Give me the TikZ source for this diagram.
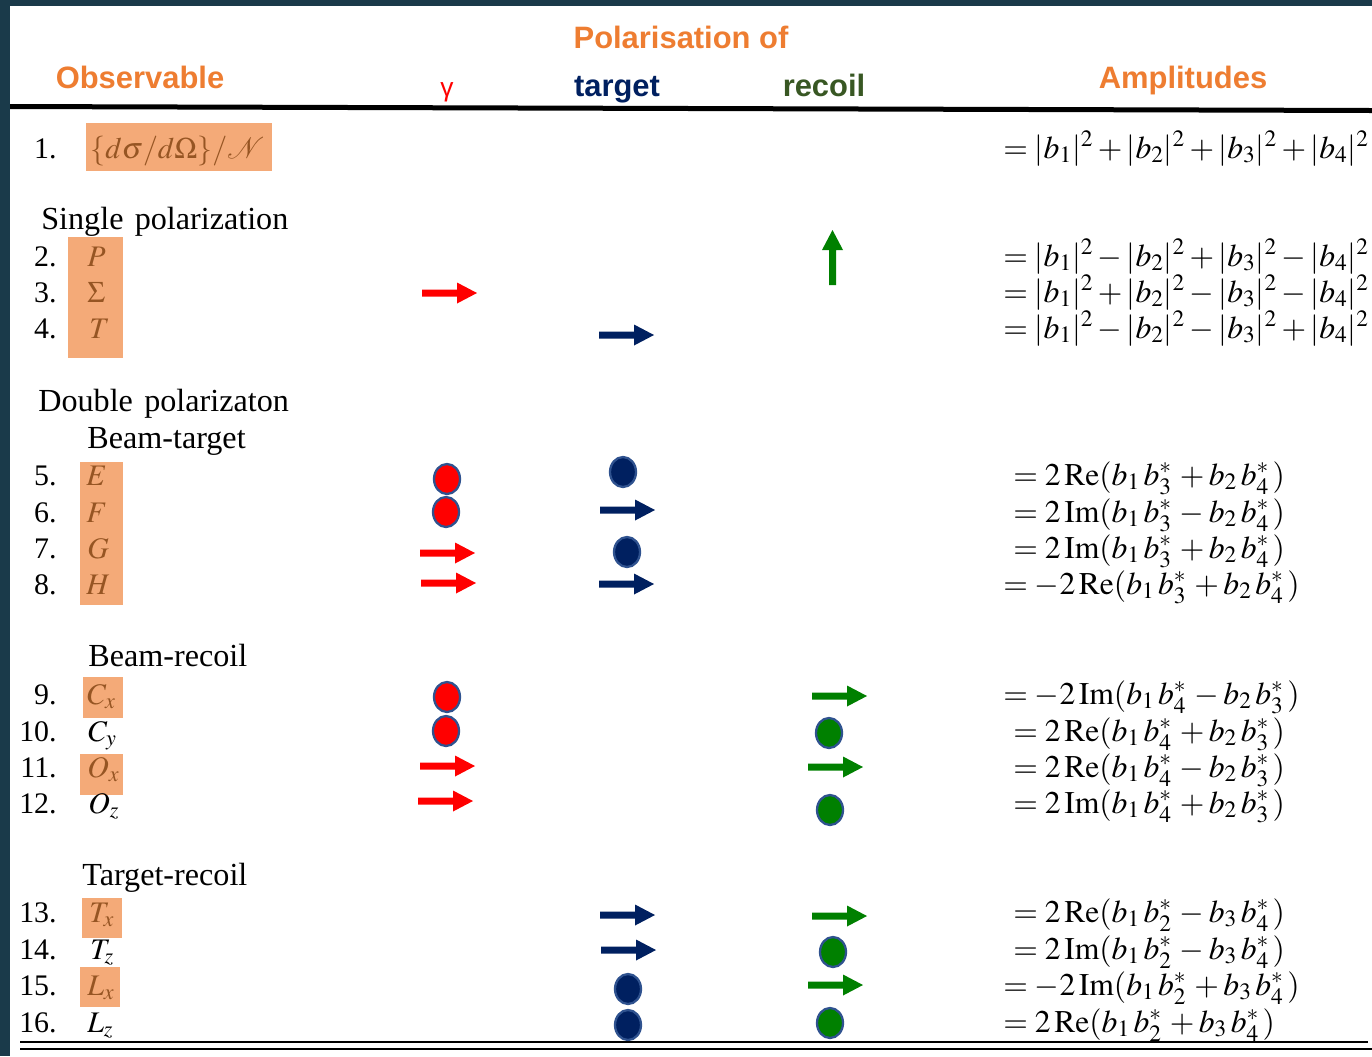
\documentclass[tikz,border=0pt]{standalone}
\usepackage{mathptmx}
\usepackage[no-math]{fontspec}
\setmainfont{Liberation Serif}
\newfontfamily\hdfont{Liberation Sans}
\usetikzlibrary{shapes.geometric}

\definecolor{frame}{RGB}{26,58,74}
\definecolor{hdorange}{RGB}{238,125,49}
\definecolor{tgtnavy}{RGB}{0,32,96}
\definecolor{rcgreen}{RGB}{56,87,35}
\definecolor{boxfill}{RGB}{244,170,120}
\definecolor{boxtext}{RGB}{150,85,35}
\definecolor{gamred}{RGB}{255,0,0}
\definecolor{recgreen}{RGB}{0,128,0}
\definecolor{dotedge}{RGB}{47,82,143}

\newcommand{\rowfont}{\fontsize{17}{20}\selectfont}
\newcommand{\ampfont}{\fontsize{18}{20}\selectfont}
\newcommand{\secfont}{\fontsize{18.3}{20}\selectfont}
\newcommand{\hdsize}{\hdfont\bfseries\fontsize{17.6}{19}\selectfont}

% block arrows: colour, left x, centre y  /  colour, centre x, bottom y
\newcommand{\polright}[3]{\fill[#1] (#2,#3) ++(0,-3.5) -- ++(35,0) -- ++(0,-7) -- ++(20,10.5) -- ++(-20,10.5) -- ++(0,-7) -- ++(-35,0) -- cycle;}
\newcommand{\polup}[3]{\fill[#1] (#2,#3) ++(-3.5,0) -- ++(0,-35) -- ++(-7,0) -- ++(10.5,-20) -- ++(10.5,20) -- ++(-7,0) -- ++(0,35) -- cycle;}

\tikzset{
  numlab/.style={anchor=base east, inner sep=0pt, font=\rowfont},
  obslab/.style={anchor=base west, inner sep=0pt, font=\rowfont},
  inbox/.style={obslab, text=boxtext},
  amp/.style={anchor=base west, inner sep=0pt, font=\ampfont},
  secthead/.style={anchor=base west, inner sep=0pt, font=\secfont},
  colhead/.style={anchor=base, inner sep=0pt, font=\hdsize},
  poldot/.style={ellipse, draw=dotedge, line width=1.3pt, inner sep=0pt, minimum width=0.52cm, minimum height=0.6cm},
  reddot/.style={poldot, fill=gamred},
  navydot/.style={poldot, fill=tgtnavy},
  greendot/.style={poldot, fill=recgreen}
}

\begin{document}
\begin{tikzpicture}[x=0.02cm,y=-0.02cm]
\useasboundingbox (0,0) rectangle (1372,1056);
\fill[frame] (0,0) rectangle (1372,1056);
\fill[white] (10,6) rectangle (1372,1056);

% column heads
\node[colhead, text=hdorange] (polof) at (681,48) {Polarisation of};
\node[colhead, text=hdorange] (obs) at (140,88) {Observable};
\node[colhead, text=gamred, font=\hdfont\fontsize{15}{16}\selectfont] (gam) at (447,96) {γ};
\node[colhead, text=tgtnavy] (tgt) at (617,96) {target};
\node[colhead, text=rcgreen] (rec) at (824,96) {recoil};
\node[colhead, text=hdorange] (amps) at (1183,88) {Amplitudes};
\fill[black] (10,104) -- (1372,108) -- (1372,113) -- (10,109) -- cycle;

% orange boxes
\fill[boxfill] (86,123) rectangle (272,171);
\fill[boxfill] (68,237) rectangle (123,358);
\fill[boxfill] (80,462) rectangle (123,605);
\fill[boxfill] (83,677) rectangle (123,718);
\fill[boxfill] (80,754) rectangle (123,795);
\fill[boxfill] (82,898) rectangle (122,938);
\fill[boxfill] (80,967) rectangle (120,1007);

% section heads
\node[secthead] (single) at (41,229) {Single\hspace{0.1em} polarization};
\node[secthead] (double) at (38,411) {Double\hspace{0.1em} polarizaton};
\node[secthead] (bt) at (87,448) {Beam-target};
\node[secthead] (br) at (88,666) {Beam-recoil};
\node[secthead] (tr) at (82,885) {Target-recoil};

% row numbers
\node[numlab] (n1) at (57,158) {1.};
\node[numlab] (n2) at (57,266) {2.};
\node[numlab] (n3) at (57,302) {3.};
\node[numlab] (n4) at (57,338) {4.};
\node[numlab] (n5) at (57,485) {5.};
\node[numlab] (n6) at (57,522) {6.};
\node[numlab] (n7) at (57,558) {7.};
\node[numlab] (n8) at (57,594) {8.};
\node[numlab] (n9) at (57,704) {9.};
\node[numlab] (n10) at (57,741) {10.};
\node[numlab] (n11) at (57,777) {11.};
\node[numlab] (n12) at (57,813) {12.};
\node[numlab] (n13) at (57,922) {13.};
\node[numlab] (n14) at (57,959) {14.};
\node[numlab] (n15) at (57,995) {15.};
\node[numlab] (n16) at (57,1032) {16.};

% observables
\node[inbox] (o1) at (90,158) {$\{d\sigma/d\Omega\}/\mathcal{N}$};
\node[inbox] (o2) at (87,266) {$P$};
\node[inbox] (o3) at (87,302) {$\Sigma$};
\node[inbox] (o4) at (89,338) {$T$};
\node[inbox] (o5) at (86,485) {$E$};
\node[inbox] (o6) at (86,522) {$F$};
\node[inbox] (o7) at (87,558) {$G$};
\node[inbox] (o8) at (86,594) {$H$};
\node[inbox] (o9) at (87,704) {$C_x$};
\node[obslab] (o10) at (88,741) {$C_y$};
\node[inbox] (o11) at (87,777) {$O_x$};
\node[obslab] (o12) at (88,813) {$O_z$};
\node[inbox] (o13) at (89,922) {$T_x$};
\node[obslab] (o14) at (90,959) {$T_z$};
\node[inbox] (o15) at (87,995) {$L_x$};
\node[obslab] (o16) at (87,1032) {$L_z$};

% amplitudes
\node[amp] (a1) at (1003,158) {$=|b_1|^2+|b_2|^2+|b_3|^2+|b_4|^2$};
\node[amp] (a2) at (1003,266) {$=|b_1|^2-|b_2|^2+|b_3|^2-|b_4|^2$};
\node[amp] (a3) at (1003,302) {$=|b_1|^2+|b_2|^2-|b_3|^2-|b_4|^2$};
\node[amp] (a4) at (1003,338) {$=|b_1|^2-|b_2|^2-|b_3|^2+|b_4|^2$};
\node[amp] (a5) at (1013,485) {$=2\,\mathrm{Re}(b_1\,b_3^*\,+b_2\,b_4^*\,)$};
\node[amp] (a6) at (1013,522) {$=2\,\mathrm{Im}(b_1\,b_3^*\,-b_2\,b_4^*\,)$};
\node[amp] (a7) at (1013,558) {$=2\,\mathrm{Im}(b_1\,b_3^*\,+b_2\,b_4^*\,)$};
\node[amp] (a8) at (1003,594) {$=-2\,\mathrm{Re}(b_1\,b_3^*\,+b_2\,b_4^*\,)$};
\node[amp] (a9) at (1003,704) {$=-2\,\mathrm{Im}(b_1\,b_4^*\,-b_2\,b_3^*\,)$};
\node[amp] (a10) at (1013,741) {$=2\,\mathrm{Re}(b_1\,b_4^*\,+b_2\,b_3^*\,)$};
\node[amp] (a11) at (1013,777) {$=2\,\mathrm{Re}(b_1\,b_4^*\,-b_2\,b_3^*\,)$};
\node[amp] (a12) at (1013,813) {$=2\,\mathrm{Im}(b_1\,b_4^*\,+b_2\,b_3^*\,)$};
\node[amp] (a13) at (1013,922) {$=2\,\mathrm{Re}(b_1\,b_2^*\,-b_3\,b_4^*\,)$};
\node[amp] (a14) at (1013,959) {$=2\,\mathrm{Im}(b_1\,b_2^*\,-b_3\,b_4^*\,)$};
\node[amp] (a15) at (1003,995) {$=-2\,\mathrm{Im}(b_1\,b_2^*\,+b_3\,b_4^*\,)$};
\node[amp] (a16) at (1003,1032) {$=2\,\mathrm{Re}(b_1\,b_2^*\,+b_3\,b_4^*\,)$};

% photon polarisation
\polright{gamred}{422}{293}
\node[reddot] (g5) at (447,479) {};
\node[reddot] (g6) at (446,512) {};
\polright{gamred}{420}{553}
\polright{gamred}{421}{583}
\node[reddot] (g9) at (447,697) {};
\node[reddot] (g10) at (446,731) {};
\polright{gamred}{420}{766}
\polright{gamred}{418}{801}

% target polarisation
\polright{tgtnavy}{599}{335}
\node[navydot] (t5) at (623,472) {};
\polright{tgtnavy}{600}{510}
\node[navydot] (t7) at (627,552) {};
\polright{tgtnavy}{599}{584}
\polright{tgtnavy}{600}{915}
\polright{tgtnavy}{601}{950}
\node[navydot] (t15) at (628,989) {};
\node[navydot] (t16) at (628,1025) {};

% recoil polarisation
\polup{recgreen}{832.5}{285}
\polright{recgreen}{812}{696}
\node[greendot] (r10) at (829,733) {};
\polright{recgreen}{808}{767}
\node[greendot] (r12) at (830,810) {};
\polright{recgreen}{812}{916}
\node[greendot] (r14) at (833,952) {};
\polright{recgreen}{808}{985}
\node[greendot] (r16) at (830,1023) {};

% closing double rule
\draw[line width=1.2pt] (20,1042) -- (1368,1042);
\draw[line width=1.2pt] (20,1049) -- (1372,1049);
\end{tikzpicture}
\end{document}
